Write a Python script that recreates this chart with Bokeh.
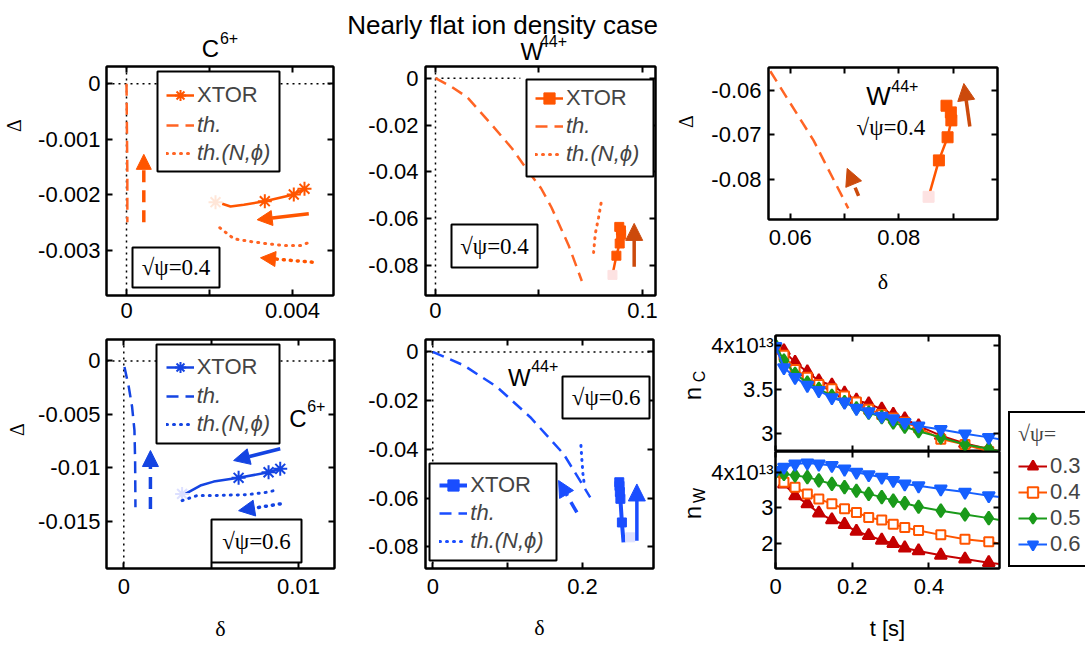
import math
from bokeh.plotting import figure
from bokeh.models import (Range1d, LinearAxis, FixedTicker, Span, Label, Legend, LegendItem,
                          BoxAnnotation, Arrow, NormalHead)
from bokeh.layouts import row, column
from bokeh.embed import file_html
from bokeh.resources import INLINE

# ======================= DATA =======================
# Panel a: C6+, sqrt(psi)=0.4   (delta, Delta)
c04_xtor_d = [0.002306, 0.002506, 0.002827, 0.003333, 0.004031, 0.004289]
c04_xtor_D = [-0.002159, -0.002208, -0.002177, -0.002113, -0.001992, -0.001890]
c04_mark_d = [0.003333, 0.004031, 0.004289]
c04_mark_D = [-0.002113, -0.001992, -0.001890]
c04_start_d = [0.002145]
c04_start_D = [-0.002131]
c04_th_d = [0.0, 0.00001, 0.00002, 0.00002]
c04_th_D = [0.0, -0.0008, -0.0016, -0.00249]
c04_thN_d = [0.002248, 0.002586, 0.002988, 0.003390, 0.003790, 0.004193, 0.004354]
c04_thN_D = [-0.002591, -0.002789, -0.002838, -0.002879, -0.002910, -0.002910, -0.002868]
c04_arrow_th = [0.000417, -0.00249, 0.000417, -0.00127]
c04_arrow_xtor = [0.004393, -0.002339, 0.003149, -0.002447]
c04_arrow_thN = [0.004475, -0.003210, 0.003229, -0.003131]

# Panels b, c: W44+, sqrt(psi)=0.4
w04_xtor_d = [0.0855, 0.0874, 0.0890, 0.0897, 0.0896, 0.0888]
w04_xtor_D = [-0.0840, -0.0758, -0.0706, -0.0668, -0.0650, -0.0635]
w04_mark_d = [0.0874, 0.0890, 0.0897, 0.0896, 0.0888]
w04_mark_D = [-0.0758, -0.0706, -0.0668, -0.0650, -0.0635]
w04_start_d = [0.0855]
w04_start_D = [-0.0840]
w04_th_d = [0.0, 0.0080, 0.0153, 0.0273, 0.0370, 0.0450, 0.0510, 0.0560, 0.0643, 0.0707]
w04_th_D = [0.0, -0.0038, -0.0081, -0.0200, -0.0300, -0.0400, -0.0470, -0.0551, -0.0713, -0.0866]
w04_thN_d = [0.0800, 0.0788, 0.0772, 0.0764]
w04_thN_D = [-0.0534, -0.0594, -0.0665, -0.0744]
w04_zero_end = 0.041
w04_arrow_xtor_b = [0.0960, -0.0805, 0.0960, -0.0620]
w04_arrow_th_c = [0.0726, -0.0838, 0.0705, -0.0776]
w04_arrow_xtor_c = [0.0931, -0.0682, 0.0920, -0.0585]

# Panel d: C6+, sqrt(psi)=0.6
c06_xtor_d = [0.003526, 0.004383, 0.005143, 0.006571, 0.008286, 0.008954]
c06_xtor_D = [-0.01243, -0.01165, -0.01128, -0.01093, -0.01041, -0.01009]
c06_mark_d = [0.006571, 0.008286, 0.008954]
c06_mark_D = [-0.01093, -0.01041, -0.01009]
c06_start_d = [0.003337]
c06_start_D = [-0.01243]
c06_th_d = [0.000038, 0.000286, 0.000476, 0.000610, 0.000648, 0.000667]
c06_th_D = [-0.000563, -0.00244, -0.00431, -0.0065, -0.00931, -0.01369]
c06_thN_d = [0.003337, 0.003623, 0.004194, 0.005143, 0.007051, 0.008194, 0.008766]
c06_thN_D = [-0.01306, -0.01290, -0.01259, -0.01259, -0.01250, -0.01228, -0.01206]
c06_arrow_th = [0.001524, -0.01384, 0.001524, -0.008375]
c06_arrow_xtor = [0.008954, -0.00821, 0.006286, -0.00931]
c06_arrow_thN = [0.008954, -0.01337, 0.006571, -0.01400]

# Panel e: W44+, sqrt(psi)=0.6
w06_xtor_d = [0.2547, 0.2525, 0.2505, 0.2498, 0.2493, 0.2490]
w06_xtor_D = [-0.0782, -0.0700, -0.0603, -0.0575, -0.0550, -0.0535]
w06_mark_d = [0.2525, 0.2505, 0.2498, 0.2493, 0.2490]
w06_mark_D = [-0.0700, -0.0603, -0.0575, -0.0550, -0.0535]
w06_start_d = [0.2636]
w06_start_D = [-0.0761]
w06_th_d = [0.0, 0.0413, 0.0858, 0.1302, 0.1747, 0.2102]
w06_th_D = [0.0, -0.0055, -0.0144, -0.0268, -0.0419, -0.0597]
w06_thN_d = [0.1978, 0.1990, 0.2005, 0.2022]
w06_thN_D = [-0.0384, -0.0440, -0.0500, -0.0542]
w06_arrow_th = [0.1924, -0.0659, 0.1680, -0.0528]
w06_arrow_xtor = [0.2725, -0.0775, 0.2725, -0.0542]

# Panel f: densities vs time (units of 1e13)
t_mark = [0, 0.022, 0.051, 0.083, 0.113, 0.147, 0.180, 0.211, 0.243, 0.277,
          0.307, 0.337, 0.373, 0.431, 0.494, 0.556]
t_end = 0.584
psi_labels = ["0.3", "0.4", "0.5", "0.6"]
nC_03 = [3.99, 3.94, 3.81, 3.70, 3.60, 3.55, 3.46, 3.38, 3.34, 3.28, 3.22, 3.17, 3.09, 2.98, 2.89, 2.83]
nC_04 = [3.96, 3.89, 3.73, 3.64, 3.56, 3.51, 3.43, 3.36, 3.28, 3.22, 3.18, 3.13, 3.07, 2.94, 2.88, 2.80]
nC_05 = [4.00, 3.83, 3.68, 3.58, 3.51, 3.43, 3.36, 3.29, 3.24, 3.19, 3.13, 3.08, 3.03, 2.96, 2.88, 2.83]
nC_06 = [3.99, 3.75, 3.64, 3.55, 3.49, 3.41, 3.36, 3.29, 3.25, 3.20, 3.17, 3.13, 3.09, 3.05, 3.00, 2.96]
nC_end = [2.80, 2.78, 2.80, 2.94]
nW_03 = [4.00, 3.67, 3.34, 3.11, 2.85, 2.66, 2.53, 2.34, 2.22, 2.09, 2.00, 1.87, 1.79, 1.67, 1.56, 1.46]
nW_04 = [4.00, 3.72, 3.58, 3.39, 3.25, 3.11, 2.97, 2.87, 2.73, 2.66, 2.54, 2.45, 2.36, 2.24, 2.12, 2.05]
nW_05 = [4.00, 3.95, 3.91, 3.86, 3.77, 3.67, 3.58, 3.48, 3.39, 3.30, 3.20, 3.13, 3.03, 2.92, 2.81, 2.71]
nW_06 = [4.05, 4.14, 4.23, 4.26, 4.23, 4.19, 4.09, 4.00, 3.93, 3.86, 3.77, 3.67, 3.62, 3.53, 3.44, 3.34]
nW_end = [1.42, 2.00, 2.66, 3.30]

# Ticks
p1_xt, p1_xl = [0, 0.002, 0.004], ["0", "", "0.004"]
p1_yt, p1_yl = [0, -0.001, -0.002, -0.003], ["0", "-0.001", "-0.002", "-0.003"]
p2_xt, p2_xl = [0, 0.05, 0.1], ["0", "", "0.1"]
p2_yt, p2_yl = [0, -0.02, -0.04, -0.06, -0.08], ["0", "-0.02", "-0.04", "-0.06", "-0.08"]
p3_xt, p3_xl = [0.06, 0.07, 0.08, 0.09], ["0.06", "", "0.08", ""]
p3_yt, p3_yl = [-0.06, -0.07, -0.08], ["-0.06", "-0.07", "-0.08"]
p4_xt, p4_xl = [0, 0.005, 0.01], ["0", "", "0.01"]
p4_yt, p4_yl = [0, -0.005, -0.01, -0.015], ["0", "-0.005", "-0.01", "-0.015"]
p5_xt, p5_xl = [0, 0.1, 0.2], ["0", "", "0.2"]
p5_yt, p5_yl = [0, -0.02, -0.04, -0.06, -0.08], ["0", "-0.02", "-0.04", "-0.06", "-0.08"]
p6_xt, p6_xl = [0, 0.2, 0.4], ["0", "0.2", "0.4"]
p6a_yt, p6a_yl = [3, 3.5, 4], ["3", "3.5", "4x10\u00b9\u00b3"]
p6b_yt, p6b_yl = [2, 3, 4], ["2", "3", "4x10\u00b9\u00b3"]

# ======================= STYLE =======================
SANS = "Liberation Sans"
SERIF = "Liberation Serif"
OR = "#ff5500"
OR_TH = "#ff6424"
OR_DARK = "#cc4a0c"
OR_PALE = "#ffe6d8"
PINK_PALE = "#fde2e2"
BL = "#1444e2"
BL2 = "#1a4dff"
BL_PALE = "#dde0ff"
C_RED, C_ORG, C_GRN, C_BLU = "#c40000", "#ff5500", "#1a9a1a", "#1660ff"
DASH = "12 7"
DOT = "1 6"


class Frame:
    def __init__(self, L, T, R, B, xr, yr):
        self.L, self.T, self.R, self.B, self.xr, self.yr = L, T, R, B, xr, yr

    def x(self, wx):
        return self.xr[0] + (wx - self.L) / (self.R - self.L) * (self.xr[1] - self.xr[0])

    def y(self, wy):
        return self.yr[1] - (wy - self.T) / (self.B - self.T) * (self.yr[1] - self.yr[0])


def base_fig(w, h, xr, yr, borders, **kw):
    l, t, r, b = borders
    p = figure(width=w, height=h, x_range=Range1d(*xr), y_range=Range1d(*yr),
               min_border_left=l, min_border_right=r, min_border_top=t, min_border_bottom=b,
               output_backend="svg", toolbar_location=None, tools="", frame_align=False, **kw)
    p.xgrid.visible = False
    p.ygrid.visible = False
    p.background_fill_color = "white"
    p.border_fill_color = "white"
    return p


def make_fig(canvas, frame, xr, yr):
    cx, cy, cw, ch = canvas
    L, T, R, B = frame
    p = base_fig(cw, ch, xr, yr, (L - cx, T - cy, cx + cw - R, cy + ch - B))
    p.outline_line_color = "black"
    p.outline_line_width = 2
    p.outline_line_alpha = 1
    return p, Frame(L, T, R, B, xr, yr)


def text_fig(cx, cy, w, h):
    """Text-only canvas; data coordinates equal page pixel coordinates (y downward)."""
    p = base_fig(w, h, (cx, cx + w), (cy + h, cy), (0, 0, 0, 0),
                 x_axis_type=None, y_axis_type=None)
    p.outline_line_color = None
    return p


def tlabel(p, x, y, text, font=SANS, size="22px", angle=0.0, align="center", baseline="middle"):
    p.add_layout(Label(x=x, y=y, text=text, text_font=font, text_font_size=size,
                       text_align=align, text_baseline=baseline, angle=angle,
                       text_font_style="normal", text_color="black"))


def style_axis(ax, ticks, labels, show, standoff):
    ax.ticker = FixedTicker(ticks=list(ticks))
    ax.axis_line_color = "black"
    ax.axis_line_width = 2
    ax.major_tick_in = 6
    ax.major_tick_out = 0
    ax.major_tick_line_color = "black"
    ax.major_tick_line_width = 2
    ax.minor_tick_line_color = None
    ax.major_label_text_font = SANS
    if show:
        ax.major_label_overrides = {t: s for t, s in zip(ticks, labels)}
        ax.major_label_text_color = "black"
        ax.major_label_text_font_size = "22px"
        ax.major_label_standoff = standoff
    else:
        ax.major_label_overrides = {t: "" for t in ticks}
        ax.major_label_text_color = None
        ax.major_label_text_font_size = "0px"
        ax.major_label_standoff = 0


def setup_axes(p, xt, xl, yt, yl, xs=9, ys=6, bottom_labels=True):
    style_axis(p.below[0], xt, xl, bottom_labels, xs)
    style_axis(p.left[0], yt, yl, True, ys)
    top = LinearAxis()
    right = LinearAxis()
    style_axis(top, xt, xl, False, 0)
    style_axis(right, yt, yl, False, 0)
    p.add_layout(top, "above")
    p.add_layout(right, "right")


def x_axis_label(p, text, font, standoff):
    ax = p.below[0]
    ax.axis_label = text
    ax.axis_label_text_font = font
    ax.axis_label_text_font_size = "22px"
    ax.axis_label_text_font_style = "normal"
    ax.axis_label_text_color = "black"
    ax.axis_label_standoff = standoff


def zero_spans(p, horiz=True):
    p.add_layout(Span(location=0, dimension="height", line_color="black", line_width=1.5,
                      line_dash="2 4", level="underlay"))
    if horiz:
        p.add_layout(Span(location=0, dimension="width", line_color="black", line_width=1.5,
                          line_dash="2 4", level="underlay"))


def arrow(p, a, color, dash="solid", width=3, head=16, cap="butt"):
    p.add_layout(Arrow(end=NormalHead(size=head, fill_color=color, line_color=color, line_width=1),
                       x_start=a[0], y_start=a[1], x_end=a[2], y_end=a[3],
                       line_color=color, line_width=width, line_dash=dash, line_cap=cap))


def flabel(p, fr, wx, wy, text, font=SANS, size="22px"):
    tlabel(p, fr.x(wx), fr.y(wy), text, font=font, size=size)


def boxed(p, fr, l, t, r, b):
    p.add_layout(BoxAnnotation(left=fr.x(l), right=fr.x(r), top=fr.y(t), bottom=fr.y(b),
                               fill_color="white", fill_alpha=1.0, line_color="black",
                               line_width=2, line_alpha=1.0))


def legend_pair(p, fr, box, gx, row1, row2, item_a, items_b):
    boxed(p, fr, *box)
    common = dict(padding=0, spacing=0, margin=0, glyph_width=28, glyph_height=28,
                  label_height=28, label_standoff=3, border_line_alpha=0,
                  background_fill_alpha=0, label_text_font=SANS, label_text_font_size="22px")
    la = Legend(items=[item_a], location=(gx - fr.L, fr.B - (row1 + 14)),
                label_text_font_style="normal", **common)
    lb = Legend(items=items_b, location=(gx - fr.L, fr.B - (row2 - 14 + 28 * len(items_b))),
                label_text_font_style="italic", **common)
    p.add_layout(la)
    p.add_layout(lb)


ROW1_Y, ROW2_Y = 65, 326
H1 = ROW2_Y - ROW1_Y
H2 = 322

# ======================= TEXT STRIPS =======================
top_strip = text_fig(0, 0, 1085, ROW1_Y)
tlabel(top_strip, 502, 24, "Nearly flat ion density case", size="26px", baseline="alphabetic")
tlabel(top_strip, 210, 47.5, "C", size="24px")
tlabel(top_strip, 228.5, 37.5, "6+", size="16px")
tlabel(top_strip, 531.3, 50.5, "W", size="24px")
tlabel(top_strip, 553, 40.5, "44+", size="16px")

left1 = text_fig(0, ROW1_Y, 25, H1)
tlabel(left1, 13, 125, "Δ", font=SERIF, size="20px", angle=math.pi / 2)
mid1 = text_fig(672, ROW1_Y, 27, H1)
tlabel(mid1, 685, 121, "Δ", font=SERIF, size="20px", angle=math.pi / 2)
left2 = text_fig(0, ROW2_Y, 28, H2)
tlabel(left2, 16, 429, "Δ", font=SERIF, size="20px", angle=math.pi / 2)
nfig = text_fig(672, ROW2_Y, 36, H2)
tlabel(nfig, 692, 393, "n", size="24px", angle=math.pi / 2)
tlabel(nfig, 698.5, 376, "C", size="16px", angle=math.pi / 2)
tlabel(nfig, 692, 512, "n", size="24px", angle=math.pi / 2)
tlabel(nfig, 698.5, 495, "W", size="16px", angle=math.pi / 2)

# ======================= PANEL a =======================
p1, f1 = make_fig((25, ROW1_Y, 315, H1), (106, 66, 333, 295), (-0.000482, 0.004988), (-0.00381, 0.000311))
setup_axes(p1, p1_xt, p1_xl, p1_yt, p1_yl, xs=7, ys=6)
zero_spans(p1)
r1x = p1.line(c04_xtor_d, c04_xtor_D, line_color=OR, line_width=2.5)
r1m = p1.scatter(c04_mark_d, c04_mark_D, marker="asterisk", size=14, line_color=OR, line_width=2)
p1.scatter(c04_start_d, c04_start_D, marker="asterisk", size=14, line_color=OR_PALE, line_width=2)
r1t = p1.line(c04_th_d, c04_th_D, line_color=OR_TH, line_width=2.5, line_dash=DASH)
r1n = p1.line(c04_thN_d, c04_thN_D, line_color=OR_TH, line_width=3, line_dash=DOT, line_cap="round")
arrow(p1, c04_arrow_th, OR, dash="12 8", width=3.5, head=15)
arrow(p1, c04_arrow_xtor, OR, width=3.5, head=15)
arrow(p1, c04_arrow_thN, OR, dash=DOT, width=3.5, head=15, cap="round")
legend_pair(p1, f1, (157, 71, 279, 171), 166, 95, 125,
            LegendItem(label="XTOR", renderers=[r1x, r1m]),
            [LegendItem(label="th.", renderers=[r1t]), LegendItem(label="th.(N,ϕ)", renderers=[r1n])])
boxed(p1, f1, 132, 247, 219, 287)
flabel(p1, f1, 175.5, 267, "√ψ=0.4", font=SERIF, size="23px")

# ======================= PANEL b =======================
p2, f2 = make_fig((340, ROW1_Y, 332, H1), (425, 66, 655, 295), (-0.00482, 0.1063), (-0.0928, 0.005))
setup_axes(p2, p2_xt, p2_xl, p2_yt, p2_yl, xs=7, ys=7)
zero_spans(p2, horiz=False)
p2.line([0, w04_zero_end], [0, 0], line_color="black", line_width=1.5, line_dash="2 4")
r2t = p2.line(w04_th_d, w04_th_D, line_color=OR_TH, line_width=2.5, line_dash=DASH)
r2n = p2.line(w04_thN_d, w04_thN_D, line_color=OR_TH, line_width=3, line_dash=DOT, line_cap="round")
r2x = p2.line(w04_xtor_d, w04_xtor_D, line_color=OR, line_width=2.5)
r2m = p2.scatter(w04_mark_d, w04_mark_D, marker="square", size=9, fill_color=OR, line_color=OR)
p2.scatter(w04_start_d, w04_start_D, marker="square", size=9, fill_color=PINK_PALE, line_color=PINK_PALE)
arrow(p2, w04_arrow_xtor_b, OR_DARK, width=3.5, head=17)
legend_pair(p2, f2, (526, 79, 653, 176), 535, 98.3, 125.7,
            LegendItem(label="XTOR", renderers=[r2x, r2m]),
            [LegendItem(label="th.", renderers=[r2t]), LegendItem(label="th.(N,ϕ)", renderers=[r2n])])
boxed(p2, f2, 451, 224, 537, 267)
flabel(p2, f2, 494, 245.5, "√ψ=0.4", font=SERIF, size="23px")

# ======================= PANEL c =======================
p3, f3 = make_fig((699, ROW1_Y, 386, H1), (768, 67, 997, 219), (0.056, 0.0982), (-0.0891, -0.0549))
setup_axes(p3, p3_xt, p3_xl, p3_yt, p3_yl, xs=10, ys=7)
x_axis_label(p3, "δ", SERIF, 21)
p3.line(w04_th_d, w04_th_D, line_color=OR_TH, line_width=2.5, line_dash=DASH)
p3.line(w04_xtor_d, w04_xtor_D, line_color=OR, line_width=2.5)
p3.scatter(w04_mark_d, w04_mark_D, marker="square", size=11, fill_color=OR, line_color=OR)
p3.scatter(w04_start_d, w04_start_D, marker="square", size=11, fill_color=PINK_PALE, line_color=PINK_PALE)
arrow(p3, w04_arrow_th_c, OR_DARK, dash="9 6", width=3.5, head=17)
arrow(p3, w04_arrow_xtor_c, OR_DARK, width=3.5, head=17)
flabel(p3, f3, 878, 95.3, "W", size="26px")
flabel(p3, f3, 904.3, 85.8, "44+", size="16px")
flabel(p3, f3, 890.4, 127.3, "√ψ=0.4", font=SERIF, size="23px")

# ======================= PANEL d =======================
p4, f4 = make_fig((28, ROW2_Y, 312, H2), (106, 339, 334, 568), (-0.00099, 0.01206), (-0.01941, 0.00201))
setup_axes(p4, p4_xt, p4_xl, p4_yt, p4_yl, xs=10, ys=6)
x_axis_label(p4, "δ", SERIF, 19)
zero_spans(p4)
r4x = p4.line(c06_xtor_d, c06_xtor_D, line_color=BL, line_width=2.5)
r4m = p4.scatter(c06_mark_d, c06_mark_D, marker="asterisk", size=14, line_color=BL, line_width=2)
p4.scatter(c06_start_d, c06_start_D, marker="asterisk", size=14, line_color=BL_PALE, line_width=2)
r4t = p4.line(c06_th_d, c06_th_D, line_color=BL, line_width=2.5, line_dash=DASH)
r4n = p4.line(c06_thN_d, c06_thN_D, line_color=BL, line_width=3, line_dash=DOT, line_cap="round")
arrow(p4, c06_arrow_th, BL, dash="12 8", width=3.5, head=16)
arrow(p4, c06_arrow_xtor, BL, width=3.5, head=16)
arrow(p4, c06_arrow_thN, BL, dash=DOT, width=3.5, head=16, cap="round")
legend_pair(p4, f4, (156, 344, 279, 443), 165.7, 367.3, 396,
            LegendItem(label="XTOR", renderers=[r4x, r4m]),
            [LegendItem(label="th.", renderers=[r4t]), LegendItem(label="th.(N,ϕ)", renderers=[r4n])])
boxed(p4, f4, 211, 519, 301, 562)
flabel(p4, f4, 256, 540.5, "√ψ=0.6", font=SERIF, size="23px")
flabel(p4, f4, 297.3, 418, "C", size="24px")
flabel(p4, f4, 315.8, 405.8, "6+", size="16px")

# ======================= PANEL e =======================
p5, f5 = make_fig((340, ROW2_Y, 332, H2), (425, 339, 653, 568), (-0.0097, 0.2947), (-0.0889, 0.0051))
setup_axes(p5, p5_xt, p5_xl, p5_yt, p5_yl, xs=10, ys=7)
x_axis_label(p5, "δ", SERIF, 18)
zero_spans(p5)
r5t = p5.line(w06_th_d, w06_th_D, line_color=BL2, line_width=2.5, line_dash=DASH)
r5n = p5.line(w06_thN_d, w06_thN_D, line_color=BL2, line_width=3, line_dash=DOT, line_cap="round")
r5x = p5.line(w06_xtor_d, w06_xtor_D, line_color=BL2, line_width=4)
r5m = p5.scatter(w06_mark_d, w06_mark_D, marker="square", size=9, fill_color=BL2, line_color=BL2)
p5.scatter(w06_start_d, w06_start_D, marker="square", size=9, fill_color=BL_PALE, line_color=BL_PALE)
arrow(p5, w06_arrow_th, BL2, dash="12 7", width=3.5, head=16)
arrow(p5, w06_arrow_xtor, BL2, width=3.5, head=17)
legend_pair(p5, f5, (429, 463, 556, 560), 439.3, 485, 512.7,
            LegendItem(label="XTOR", renderers=[r5x, r5m]),
            [LegendItem(label="th.", renderers=[r5t]), LegendItem(label="th.(N,ϕ)", renderers=[r5n])])
boxed(p5, f5, 562, 376, 649, 418)
flabel(p5, f5, 605.7, 397, "√ψ=0.6", font=SERIF, size="23px")
flabel(p5, f5, 518.8, 376.7, "W", size="24px")
flabel(p5, f5, 544.2, 365.8, "44+", size="16px")

# ======================= PANEL f =======================
series = [
    (psi_labels[0], nC_03, nW_03, nC_end[0], nW_end[0], C_RED, "triangle", 12, C_RED),
    (psi_labels[1], nC_04, nW_04, nC_end[1], nW_end[1], C_ORG, "square", 9, "white"),
    (psi_labels[2], nC_05, nW_05, nC_end[2], nW_end[2], C_GRN, "diamond", 13, C_GRN),
    (psi_labels[3], nC_06, nW_06, nC_end[3], nW_end[3], C_BLU, "inverted_triangle", 12, C_BLU),
]
t_line = t_mark + [t_end]

p6a, f6a = make_fig((708, ROW2_Y, 295, 125), (771, 335, 999, 451), (0, t_end), (2.80, 4.114))
setup_axes(p6a, p6_xt, p6_xl, p6a_yt, p6a_yl, ys=2, bottom_labels=False)
p6b, f6b = make_fig((708, 451, 295, ROW2_Y + H2 - 451), (771, 451, 999, 568), (0, t_end), (1.296, 4.58))
setup_axes(p6b, p6_xt, p6_xl, p6b_yt, p6b_yl, xs=10, ys=2)
x_axis_label(p6b, "t [s]", SANS, 19)

pleg = base_fig(82, H2, (0, 1), (0, 1), (0, 0, 0, 0), x_axis_type=None, y_axis_type=None)
pleg.outline_line_color = None

leg_items = []
for name, nc, nw, nce, nwe, col, mk, sz, fill in series:
    p6a.line(t_line, nc + [nce], line_color=col, line_width=2)
    p6a.scatter(t_mark, nc, marker=mk, size=sz, line_color=col, fill_color=fill, line_width=2)
    p6b.line(t_line, nw + [nwe], line_color=col, line_width=2)
    p6b.scatter(t_mark, nw, marker=mk, size=sz, line_color=col, fill_color=fill, line_width=2)
    # legend sample renderers (their data lie outside this small canvas' range)
    lr = pleg.line(t_line, nw + [nwe], line_color=col, line_width=2)
    sr = pleg.scatter(t_mark, nw, marker=mk, size=sz, line_color=col, fill_color=fill, line_width=2)
    leg_items.append(LegendItem(label=name, renderers=[lr, sr]))

pleg.add_layout(Legend(items=leg_items, title="√ψ=", title_text_font=SERIF, title_text_font_size="22px",
                       title_text_font_style="normal", title_standoff=6,
                       location=(5, ROW2_Y + H2 - 567),
                       padding=8, spacing=0, margin=0, label_height=26, glyph_height=26,
                       glyph_width=29, label_standoff=3, border_line_color="black",
                       border_line_width=2, border_line_alpha=1, background_fill_color="white",
                       background_fill_alpha=1, label_text_font=SANS, label_text_font_size="22px"))

layout = column(
    top_strip,
    row(left1, p1, p2, mid1, p3),
    row(left2, p4, p5, nfig, column(p6a, p6b), pleg),
)

with open("out.html", "w") as fh:
    fh.write(file_html(layout, INLINE))
